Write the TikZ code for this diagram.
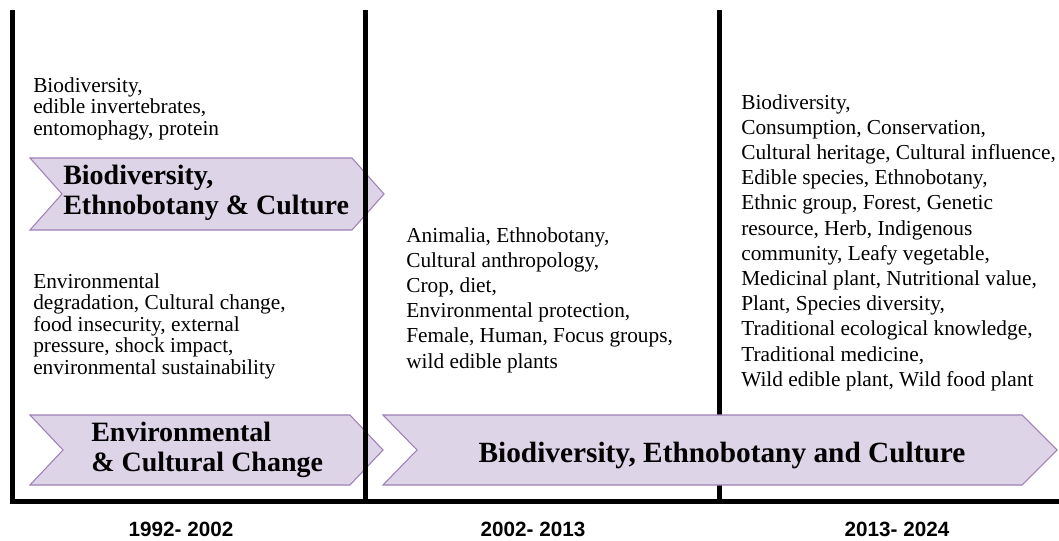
\documentclass[tikz,border=0pt]{standalone}
\usepackage{fontspec}
\setmainfont{Liberation Serif}
\setsansfont{Liberation Sans}
\usepackage{tikz}
\usetikzlibrary{calc}
\definecolor{bandfill}{RGB}{221,212,232}
\definecolor{bandline}{RGB}{158,128,182}

\begin{document}
\begin{tikzpicture}[x=0.75pt, y=-0.75pt, every node/.style={inner sep=0pt}]
\tikzset{kw/.style={anchor=north west, align=left, font=\fontsize{16}{16.2}\selectfont}}
\tikzset{kwwide/.style={kw, font=\fontsize{16}{18.9}\selectfont}}
\tikzset{theme/.style={anchor=north west, align=left, font=\fontsize{21}{22.5}\selectfont\bfseries}}
\tikzset{band/.style={fill=bandfill, draw=bandline, line width=0.8pt}}
\tikzset{axis/.style={line width=3.75pt}}
\tikzset{period/.style={anchor=base, text depth=0pt, font=\fontsize{15.5}{16}\selectfont\sffamily\bfseries}}
\useasboundingbox (0,0) rectangle (1059,540);
% theme bands of the first period
\draw[band] (30,158) -- (352,158) -- (384,194) -- (352,230) -- (30,230) -- (62,194) -- cycle;
\draw[band] (30,415) -- (350,415) -- (383,450) -- (350,485) -- (30,485) -- (63,450) -- cycle;
% time axis
\draw[axis] (12,10) -- (12,501) -- (1059,501);
\draw[axis] (365,10) -- (365,501);
\draw[axis] (719,10) -- (719,501);
% band running over the later periods
\draw[band] (383,415) -- (1022,415) -- (1057,450) -- (1022,485) -- (383,485) -- (417,450) -- cycle;
% keywords
\node[kw] (kw1) at (33,77) {Biodiversity,\\edible invertebrates,\\entomophagy, protein};
\node[kw] (kw2) at (33,273) {Environmental\\degradation, Cultural change,\\food insecurity, external\\pressure, shock impact,\\environmental sustainability};
\node[kwwide] (kw3) at (406,227) {Animalia, Ethnobotany,\\Cultural anthropology,\\Crop, diet,\\Environmental protection,\\Female, Human, Focus groups,\\wild edible plants};
\node[kwwide] (kw4) at (741,94) {Biodiversity,\\Consumption, Conservation,\\Cultural heritage, Cultural influence,\\Edible species, Ethnobotany,\\Ethnic group, Forest, Genetic\\resource, Herb, Indigenous\\community, Leafy vegetable,\\Medicinal plant, Nutritional value,\\Plant, Species diversity,\\Traditional ecological knowledge,\\Traditional medicine,\\Wild edible plant, Wild food plant};
% themes
\node[theme] (th1) at (63,165) {Biodiversity,\\Ethnobotany \& Culture};
\node[theme] (th2) at (91,422) {Environmental\\\& Cultural Change};
\node[theme, anchor=base, font=\fontsize{22}{24}\selectfont\bfseries] (th3) at (722,462) {Biodiversity, Ethnobotany and Culture};
% periods
\node[period] (p1) at (181,536) {1992- 2002};
\node[period] (p2) at (533,536) {2002- 2013};
\node[period] (p3) at (897,536) {2013- 2024};
\end{tikzpicture}
\end{document}
